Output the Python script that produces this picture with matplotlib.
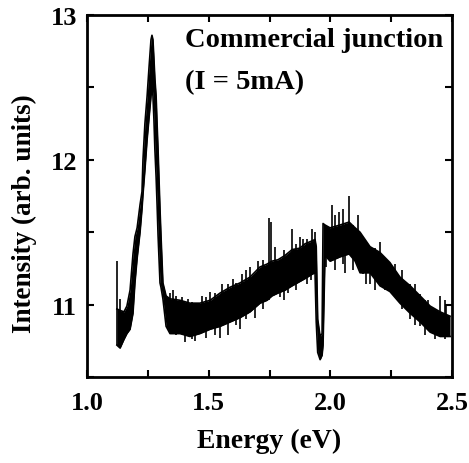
import matplotlib
matplotlib.use("Agg")
import matplotlib.pyplot as plt
from matplotlib import ticker

# envelope of the noisy spectrum
energy = [1.123, 1.136, 1.152, 1.164, 1.177, 1.189, 1.197, 1.206, 1.218, 1.226,
          1.230, 1.238, 1.247, 1.255, 1.263, 1.267, 1.271, 1.275, 1.279, 1.284,
          1.288, 1.292, 1.300, 1.304, 1.312, 1.325, 1.341, 1.382, 1.423, 1.464,
          1.506, 1.547, 1.588, 1.629, 1.670, 1.711, 1.740, 1.760, 1.785, 1.814,
          1.843, 1.875, 1.896, 1.925, 1.937, 1.942, 1.948, 1.958, 1.966, 1.970,
          1.978, 1.999, 2.040, 2.077, 2.102, 2.122, 2.163, 2.204, 2.245, 2.286,
          2.328, 2.369, 2.410, 2.451, 2.492]
upper = [10.97, 10.96, 10.95, 10.99, 11.10, 11.35, 11.47, 11.53, 11.69, 11.78,
         12.00, 12.25, 12.44, 12.64, 12.83, 12.86, 12.83, 12.70, 12.56, 12.44,
         12.25, 12.07, 11.66, 11.48, 11.15, 11.06, 11.04, 11.03, 11.01, 11.01,
         11.03, 11.08, 11.12, 11.15, 11.19, 11.26, 11.28, 11.30, 11.31, 11.34,
         11.38, 11.39, 11.42, 11.44, 11.45, 11.40, 10.90, 10.78, 10.80, 11.56,
         11.55, 11.53, 11.55, 11.57, 11.53, 11.50, 11.40, 11.36, 11.29, 11.19,
         11.13, 11.06, 10.99, 10.95, 10.92]
lower = [10.72, 10.70, 10.76, 10.80, 10.83, 10.94, 11.15, 11.32, 11.50, 11.66,
         11.76, 11.93, 12.14, 12.29, 12.44, 12.52, 12.44, 12.28, 12.07, 11.88,
         11.69, 11.48, 11.15, 11.12, 11.04, 10.85, 10.80, 10.80, 10.78, 10.80,
         10.83, 10.85, 10.88, 10.91, 10.95, 11.01, 11.03, 11.06, 11.08, 11.10,
         11.13, 11.16, 11.18, 11.21, 11.22, 10.88, 10.67, 10.62, 10.65, 10.72,
         11.34, 11.30, 11.33, 11.35, 11.30, 11.22, 11.22, 11.13, 11.09, 11.01,
         10.94, 10.88, 10.81, 10.78, 10.78]

# single noise spikes sticking out of the band
spike_energy = [1.123, 1.136, 1.341, 1.353, 1.366, 1.390, 1.403, 1.415, 1.432, 1.444,
                1.473, 1.489, 1.506, 1.526, 1.547, 1.555, 1.580, 1.600, 1.612, 1.629,
                1.637, 1.654, 1.670, 1.690, 1.703, 1.723, 1.748, 1.756, 1.773, 1.793,
                1.810, 1.826, 1.843, 1.859, 1.875, 1.888, 1.904, 1.921, 1.925, 1.937,
                1.982, 2.007, 2.019, 2.036, 2.052, 2.060, 2.077, 2.093, 2.114, 2.134,
                2.147, 2.163, 2.184, 2.204, 2.225, 2.266, 2.295, 2.328, 2.348, 2.369,
                2.389, 2.402, 2.430, 2.451, 2.471, 2.476]
spike_lo = [10.72, 10.70, 10.90, 10.83, 10.79, 10.81, 10.74, 10.83, 10.76, 10.75,
            10.83, 10.77, 10.83, 10.79, 10.77, 10.90, 10.79, 10.90, 10.86, 10.83,
            10.97, 10.90, 11.00, 10.91, 11.03, 10.97, 11.03, 11.10, 11.14, 11.05,
            11.03, 11.08, 11.24, 11.10, 11.31, 11.21, 11.14, 11.17, 11.35, 11.21,
            11.26, 11.38, 11.24, 11.42, 11.28, 11.22, 11.42, 11.24, 11.30, 11.21,
            11.14, 11.14, 11.10, 11.21, 11.10, 11.06, 10.97, 10.90, 10.86, 10.85,
            10.79, 10.83, 10.76, 10.90, 10.76, 10.78]
spike_hi = [11.30, 11.04, 11.08, 11.10, 11.06, 11.05, 11.00, 11.04, 11.02, 10.97,
            11.06, 11.05, 11.09, 11.08, 11.00, 11.14, 11.14, 11.18, 11.15, 11.03,
            11.21, 11.24, 11.26, 11.10, 11.30, 11.31, 11.60, 11.57, 11.40, 11.28,
            11.38, 11.33, 11.52, 11.42, 11.47, 11.45, 11.45, 11.42, 11.52, 11.50,
            11.48, 11.69, 11.62, 11.64, 11.66, 11.45, 11.75, 11.55, 11.62, 11.45,
            11.38, 11.35, 11.39, 11.43, 11.30, 11.28, 11.24, 11.14, 11.14, 11.07,
            11.03, 11.03, 10.97, 11.06, 11.03, 11.00]

x_ticks = [1.0, 1.5, 2.0, 2.5]
y_ticks = [11, 12, 13]

plt.rcParams["font.family"] = ["Liberation Serif", "DejaVu Serif"]
plt.rcParams["font.weight"] = "bold"

fig = plt.figure(figsize=(4.69, 4.64), dpi=100)
ax = fig.add_axes([0.1855, 0.1853, 0.7783, 0.7802])

ax.fill_between(energy, lower, upper, color="black", linewidth=0)
ax.plot(energy, upper, color="black", lw=1.2)
ax.plot(energy, lower, color="black", lw=1.2)
ax.vlines(spike_energy, spike_lo, spike_hi, color="black", lw=1.2)

ax.set_xlim(1.0, 2.5)
ax.set_ylim(10.5, 13.0)
ax.set_xticks(x_ticks)
ax.set_yticks(y_ticks)
ax.xaxis.set_minor_locator(ticker.MultipleLocator(0.25))
ax.yaxis.set_minor_locator(ticker.MultipleLocator(0.5))
ax.xaxis.set_major_formatter(ticker.FormatStrFormatter("%.1f"))
ax.tick_params(which="both", direction="in", top=True, right=True,
               length=5, width=1.5, labelsize=19)
ax.tick_params(axis="x", pad=10)
ax.tick_params(axis="y", pad=7)
for side in ax.spines.values():
    side.set_linewidth(2)

ax.set_xlabel("Energy (eV)", fontsize=20, fontweight="bold", labelpad=10)
ax.set_ylabel("Intensity (arb. units)", fontsize=19.5, fontweight="bold")
ax.yaxis.set_label_coords(-0.137, 0.453)

ax.text(0.268, 0.931, "Commercial junction", transform=ax.transAxes,
        fontsize=20.5, fontweight="bold", va="center")
ax.text(0.268, 0.815, "(I = 5mA)", transform=ax.transAxes,
        fontsize=20.5, fontweight="bold", va="center")

fig.savefig("out.png", dpi=100)
